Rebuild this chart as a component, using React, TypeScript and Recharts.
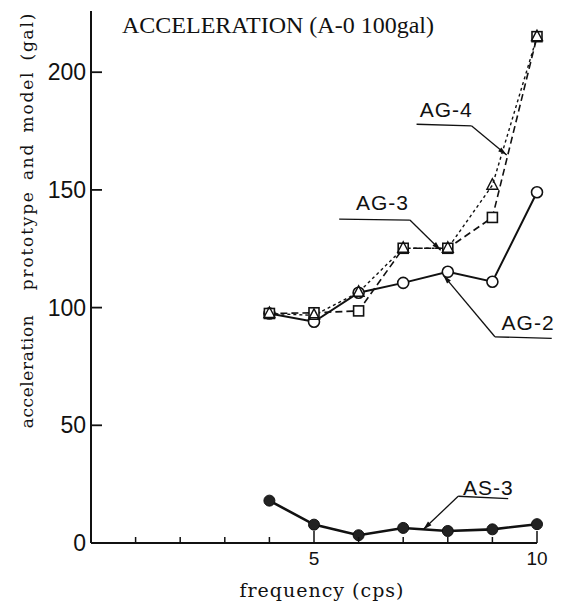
import { LineChart, Line, XAxis, YAxis, ReferenceLine, ReferenceDot } from "recharts";

// frequency (cps) and acceleration (gal)
const freq = [4, 5, 6, 7, 8, 9, 10];
const ag2 = [97.5, 94, 106.3, 110.5, 115.2, 111, 149];
const ag3 = [97.5, 97.8, 98.6, 125.2, 125.2, 138.3, 215.1];
const ag4 = [97.5, 96.7, 106.5, 125.2, 125.2, 152, 215.1];
const as3 = [18, 7.8, 3.3, 6.4, 5.1, 5.8, 8.0];

const xTicks = [1, 2, 3, 4, 5, 6, 7, 8, 9, 10];
const xLabels = [5, 10];
const yTicks = [0, 50, 100, 150, 200];

// callouts: label anchor, leader start, knee, arrow tip (data coords)
const callouts = [
    { name: "AG-4", text: [7.37, 181.1], start: [7.3, 177.9], knee: [8.53, 177.2], tip: [9.32, 164.8] },
    { name: "AG-3", text: [5.94, 141.5], start: [5.565, 137.6], knee: [7.15, 137.2], tip: [7.84, 124.4] },
    { name: "AG-2", text: [9.206, 90.4], start: [10.33, 86.9], knee: [9.056, 87.6], tip: [7.897, 113.8] },
    { name: "AS-3", text: [8.34, 20.3], start: [9.354, 18.88], knee: [8.233, 19.86], tip: [7.449, 5.7] },
];

const data = freq.map((f, i) => ({ f, ag2: ag2[i], ag3: ag3[i], ag4: ag4[i], as3: as3[i] }));

const NARROW = '"Liberation Sans Narrow", "Liberation Sans", Arial, sans-serif';
const SERIF = '"Liberation Serif", "Times New Roman", serif';
const LABEL = '"DejaVu Serif", serif';

const XTick = (props: any) => {
    const { x, y, payload } = props;
    const major = xLabels.includes(payload.value);
    return (
        <g>
            <line x1={x} y1={y} x2={x} y2={y - (major ? 12 : 6)} stroke="#111" strokeWidth={1.5} />
            {major && (
                <text x={x} y={y + 22} textAnchor="middle" fontFamily={NARROW} fontSize={19} fill="#111">
                    {payload.value}
                </text>
            )}
        </g>
    );
};

const YTick = (props: any) => {
    const { x, y, payload } = props;
    return (
        <g>
            {payload.value > 0 && <line x1={x} y1={y} x2={x + 11} y2={y} stroke="#111" strokeWidth={1.8} />}
            <text x={x - 5} y={y + 8} textAnchor="end" fontFamily={NARROW} fontSize={23} fill="#111">
                {payload.value}
            </text>
        </g>
    );
};

const Circle = (p: any) => <circle key={p.index} cx={p.cx} cy={p.cy} r={5.5} fill="#fff" stroke="#111" strokeWidth={1.6} />;
const Square = (p: any) => (
    <rect key={p.index} x={p.cx - 5} y={p.cy - 5} width={10} height={10} fill="#fff" stroke="#111" strokeWidth={1.6} />
);
const Triangle = (p: any) => (
    <polygon
        key={p.index}
        points={`${p.cx},${p.cy - 6.5} ${p.cx - 5.5},${p.cy + 4} ${p.cx + 5.5},${p.cy + 4}`}
        fill="none"
        stroke="#111"
        strokeWidth={1.4}
    />
);
const Filled = (p: any) => <circle key={p.index} cx={p.cx} cy={p.cy} r={5.5} fill="#222" stroke="#111" strokeWidth={1} />;

const Arrow = (p: any) => {
    const { x1, y1, x2, y2 } = p;
    const a = Math.atan2(y2 - y1, x2 - x1);
    const l = 9;
    const w = 2.5;
    const bx = x2 - l * Math.cos(a);
    const by = y2 - l * Math.sin(a);
    const pts = `${x2},${y2} ${bx - w * Math.sin(a)},${by + w * Math.cos(a)} ${bx + w * Math.sin(a)},${by - w * Math.cos(a)}`;
    return (
        <g>
            <line x1={x1} y1={y1} x2={x2} y2={y2} stroke="#111" strokeWidth={1.3} />
            <polygon points={pts} fill="#111" />
        </g>
    );
};

const Plain = (p: any) => <line x1={p.x1} y1={p.y1} x2={p.x2} y2={p.y2} stroke="#111" strokeWidth={1.3} />;

export default function App() {
    return (
        <div style={{ position: "absolute", left: 0, top: 0, width: 567, height: 606, background: "#fff" }}>
            <LineChart width={567} height={606} data={data} margin={{ top: 11, right: 30, bottom: 62, left: 90 }}>
                <XAxis
                    dataKey="f"
                    type="number"
                    domain={[0, 10]}
                    ticks={xTicks}
                    height={1}
                    tickSize={0}
                    tickMargin={0}
                    tickLine={false}
                    tick={<XTick />}
                    axisLine={{ stroke: "#111", strokeWidth: 2 }}
                    interval={0}
                />
                <YAxis
                    type="number"
                    domain={[0, 226]}
                    ticks={yTicks}
                    width={1}
                    tickSize={0}
                    tickMargin={0}
                    tickLine={false}
                    tick={<YTick />}
                    axisLine={{ stroke: "#111", strokeWidth: 2 }}
                    interval={0}
                />
                <Line dataKey="ag2" stroke="#111" strokeWidth={2} dot={Circle} isAnimationActive={false} />
                <Line dataKey="ag3" stroke="#111" strokeWidth={1.6} strokeDasharray="7 4" dot={Square} isAnimationActive={false} />
                <Line dataKey="ag4" stroke="#111" strokeWidth={1.4} strokeDasharray="3 3" dot={Triangle} isAnimationActive={false} />
                <Line dataKey="as3" stroke="#111" strokeWidth={2.6} dot={Filled} isAnimationActive={false} />
                {callouts.map((c) => (
                    <ReferenceLine
                        key={c.name + "-h"}
                        segment={[
                            { x: c.start[0], y: c.start[1] },
                            { x: c.knee[0], y: c.knee[1] },
                        ]}
                        ifOverflow="visible"
                        shape={Plain}
                    />
                ))}
                {callouts.map((c) => (
                    <ReferenceLine
                        key={c.name + "-a"}
                        segment={[
                            { x: c.knee[0], y: c.knee[1] },
                            { x: c.tip[0], y: c.tip[1] },
                        ]}
                        ifOverflow="visible"
                        shape={Arrow}
                    />
                ))}
                {callouts.map((c) => (
                    <ReferenceDot
                        key={c.name}
                        x={c.text[0]}
                        y={c.text[1]}
                        r={0}
                        ifOverflow="visible"
                        shape={(p: any) => (
                            <text x={p.cx} y={p.cy} fontFamily={NARROW} fontSize={21} letterSpacing={1} fill="#111">
                                {c.name}
                            </text>
                        )}
                    />
                ))}
            </LineChart>
            <svg width={567} height={606} style={{ position: "absolute", left: 0, top: 0, pointerEvents: "none" }}>
                <text x={122} y={33} fontFamily={SERIF} fontSize={24} fill="#111">
                    ACCELERATION (A-0 100gal)
                </text>
                <text x={322} y={597} textAnchor="middle" fontFamily={LABEL} fontSize={19} letterSpacing={1} fill="#111">
                    frequency (cps)
                </text>
                <text
                    x={33}
                    y={371.5}
                    transform="rotate(-90 33 371.5)"
                    textAnchor="middle"
                    fontFamily={LABEL}
                    fontSize={17}
                    letterSpacing={0.6}
                    fill="#111"
                >
                    acceleration
                </text>
                <text
                    x={33}
                    y={151}
                    transform="rotate(-90 33 151)"
                    textAnchor="middle"
                    fontFamily={LABEL}
                    fontSize={17}
                    letterSpacing={1.8}
                    wordSpacing={3}
                    fill="#111"
                >
                    prototype and model (gal)
                </text>
            </svg>
        </div>
    );
}
